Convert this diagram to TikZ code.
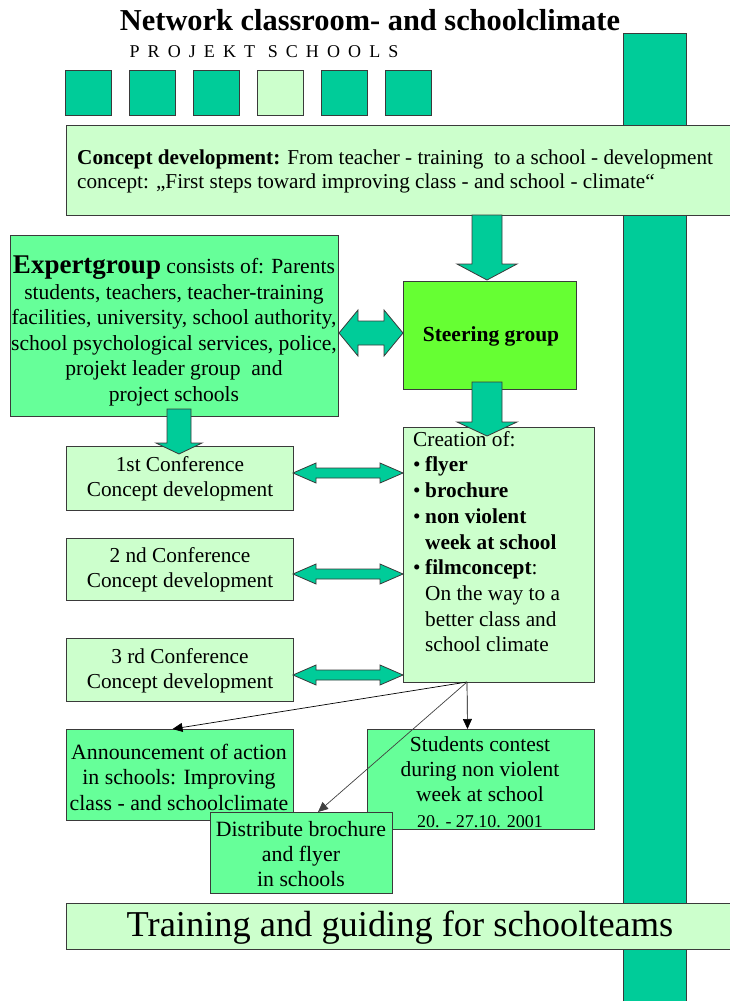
\documentclass[tikz,border=0pt]{standalone}
\usepackage{fontspec}
\setmainfont{Liberation Serif}
\usetikzlibrary{arrows.meta,calc}
\definecolor{tealbar}{HTML}{00CC99}
\definecolor{palegreen}{HTML}{CCFFCC}
\definecolor{midgreen}{HTML}{66FF99}
\definecolor{steergreen}{HTML}{66FF33}
\definecolor{edge}{HTML}{3A3A3A}
\newcommand\fs[2]{\fontsize{#1}{#2}\selectfont}
\newcommand\vblockarrow[6]{\draw[blockarrow] (#1-#5,#2) -- (#1+#5,#2) -- (#1+#5,#3) -- (#1+#6,#3) -- (#1,#4) -- (#1-#6,#3) -- (#1-#5,#3) -- cycle;}
\newcommand\hdblarrow[6]{\draw[blockarrow] (#1,#3) -- (#1+#6,#3-#5) -- (#1+#6,#3-#4) -- (#2-#6,#3-#4) -- (#2-#6,#3-#5) -- (#2,#3) -- (#2-#6,#3+#5) -- (#2-#6,#3+#4) -- (#1+#6,#3+#4) -- (#1+#6,#3+#5) -- cycle;}
\tikzset{
  box/.style={draw=edge, line width=0.9pt, anchor=north west, inner sep=0pt, outer sep=0pt},
  palebox/.style={box, fill=palegreen},
  midbox/.style={box, fill=midgreen},
  blockarrow/.style={draw=edge, line width=0.8pt, fill=tealbar, line join=miter},
  thinarrow/.style={draw=black, line width=0.7pt, -{Triangle[length=10pt,width=9pt]}},
  txt/.style={inner sep=0pt, align=center, font=\fs{21.3}{25}}
}
\begin{document}
\begin{tikzpicture}[x=1pt,y=-1pt]
\useasboundingbox (0,0) rectangle (730,1001);
% right bar
\node[box, fill=tealbar, minimum width=63, minimum height=975] (bar) at (623,33) {};
% title
\node[inner sep=0pt, font=\bfseries\fs{30.4}{31}] (title) at (370,20) {Network classroom- and schoolclimate};
\node[inner sep=0pt, font=\fs{18}{19}\addfontfeatures{LetterSpace=45}] (proj) at (264,52) {PROJEKT SCHOOLS};
% squares
\node[box, fill=tealbar, minimum width=46, minimum height=45] (sq1) at (65,70) {};
\node[box, fill=tealbar, minimum width=46, minimum height=45] (sq2) at (129,70) {};
\node[box, fill=tealbar, minimum width=46, minimum height=45] (sq3) at (193,70) {};
\node[box, fill=palegreen, minimum width=46, minimum height=45] (sq4) at (257,70) {};
\node[box, fill=tealbar, minimum width=46, minimum height=45] (sq5) at (321,70) {};
\node[box, fill=tealbar, minimum width=46, minimum height=45] (sq6) at (385,70) {};
% concept box
\node[palebox, minimum width=670, minimum height=90] (concept) at (66,125) {};
\node[txt, anchor=west, align=left, font=\fs{21.2}{24}] (concepttxt) at (77,171) {\textbf{Concept development:} From teacher - training\ \ to a school - development\\concept: „First steps toward improving class - and school - climate“};
% expert group
\node[box, fill=midgreen, minimum width=328, minimum height=181] (expert) at (10,235) {};
\node[txt, font=\fs{21.6}{25.5}] (experttxt) at (174,331) {{\fs{27}{25.5}\textbf{Expertgroup}} consists of: Parents\\students, teachers, teacher-training\\facilities, university, school authority,\\school psychological services, police,\\projekt leader group\ \ and\\project schools};
% steering group
\node[box, fill=steergreen, minimum width=173, minimum height=108] (steer) at (403,281) {};
\node[txt, font=\bfseries\fs{21.5}{25}] (steertxt) at (491,336) {Steering group};
% creation box
\node[palebox, minimum width=191, minimum height=255] (creation) at (403,427) {};
\node[txt, anchor=north west, align=left, font=\fs{21.3}{25.7}] (creationtxt) at (413,431) {Creation of:\\
\makebox[12pt][l]{•}\textbf{flyer}\\
\makebox[12pt][l]{•}\textbf{brochure}\\
\makebox[12pt][l]{•}\textbf{non violent}\\
\hspace*{12pt}\textbf{week at school}\\
\makebox[12pt][l]{•}\textbf{filmconcept}:\\
\hspace*{12pt}On the way to a\\
\hspace*{12pt}better class and\\
\hspace*{12pt}school climate};
% conferences
\node[palebox, minimum width=227, minimum height=64] (conf1) at (66,446) {};
\node[txt] (conf1txt) at (180,479) {1st Conference\\Concept development};
\node[palebox, minimum width=227, minimum height=62] (conf2) at (66,538) {};
\node[txt] (conf2txt) at (180,570) {2 nd Conference\\Concept development};
\node[palebox, minimum width=227, minimum height=63] (conf3) at (66,638) {};
\node[txt] (conf3txt) at (180,671) {3 rd Conference\\Concept development};
% lower boxes
\node[midbox, minimum width=227, minimum height=91] (ann) at (66,729) {};
\node[txt, font=\fs{21.8}{25.5}] (anntxt) at (179,777) {Announcement of action\\in schools: Improving\\class - and schoolclimate};
\node[midbox, minimum width=227, minimum height=100] (stu) at (367,729) {};
\node[txt, font=\fs{21.5}{25.3}] (stutxt) at (480,782) {Students contest\\during non violent\\week at school\\{\fs{18}{25}20. - 27.10. 2001}};
% training box
\node[palebox, minimum width=670, minimum height=46] (train) at (66,903) {};
\node[inner sep=0pt, font=\fs{36.4}{36}] (traintxt) at (400,928) {Training and guiding for schoolteams};
% block arrows
\vblockarrow{487}{215}{264}{280}{15}{30}
\vblockarrow{487}{382}{422}{436}{15}{30}
\vblockarrow{179}{409}{443}{454}{12}{23}
\hdblarrow{339}{403}{333}{12}{23}{19}
\hdblarrow{293}{403}{473}{5}{10}{23}
\hdblarrow{293}{403}{574}{5}{10}{23}
\hdblarrow{293}{403}{675}{5}{10}{23}
% thin connectors
\coordinate (src) at ($(creation.south west)+(64,0)$);
\draw[thinarrow] (src) -- ($(ann.north)+(-7,0)$);
\draw[thinarrow] (src) -- ($(stu.north)+(-13,0)$);
% distribute box
\node[midbox, minimum width=182, minimum height=81] (dist) at (210,812) {};
\node[txt, font=\fs{21.8}{25}] (disttxt) at (301,854) {Distribute brochure\\and flyer\\in schools};
\draw[thinarrow, draw=black!75] (src) -- ($(dist.north)+(17,0)$);
\end{tikzpicture}
\end{document}
